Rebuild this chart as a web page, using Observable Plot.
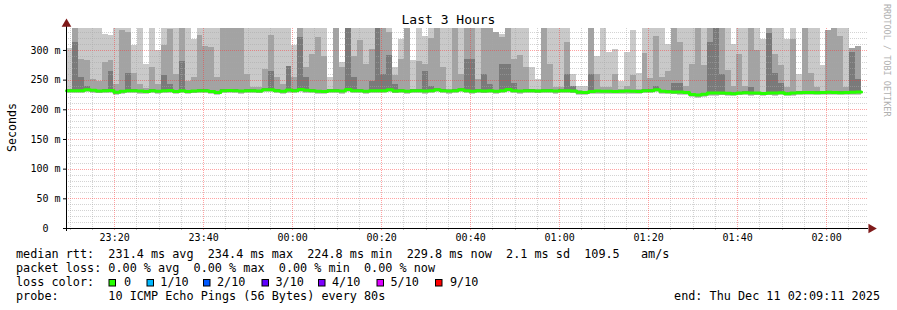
<!DOCTYPE html>
<html><head><meta charset="utf-8">
<script src="https://cdn.jsdelivr.net/npm/d3@7"></script>
<script src="https://cdn.jsdelivr.net/npm/@observablehq/plot@0.6"></script>
<style>
body{margin:0;background:#fff;}
#chart{position:relative;width:897px;height:310px;overflow:hidden;}
svg text{font-family:"DejaVu Sans Mono",monospace;white-space:pre;}
</style></head><body><div id="chart"></div>
<script>
// ---- data ----
const START = Date.UTC(2025, 11, 10, 23, 9, 11);
const END = Date.UTC(2025, 11, 11, 2, 9, 11);
const STEP_S = 80;

const median = [
232.0,232.3,232.1,233.8,233.0,231.8,232.3,232.4,229.5,231.2,
232.0,232.2,231.6,231.0,232.0,231.2,232.2,232.4,231.0,232.0,
231.0,231.8,232.3,232.0,231.0,229.2,232.0,232.4,232.0,231.6,
232.0,232.2,231.8,234.0,233.8,232.0,231.2,233.2,232.0,234.2,
232.8,232.0,231.4,231.0,232.0,232.0,231.6,234.2,232.2,232.0,
231.4,232.0,232.2,232.0,234.0,231.8,232.0,231.2,232.0,232.2,
231.6,232.0,234.0,232.0,231.6,232.0,234.0,232.0,231.2,232.0,
231.8,232.0,231.4,232.2,234.2,232.0,231.6,232.0,232.2,231.8,
232.0,232.2,231.6,232.0,232.2,231.8,229.4,229.0,230.8,231.6,
231.4,231.4,231.0,231.2,231.6,231.2,231.0,232.0,232.2,234.0,
231.2,230.4,230.0,229.8,229.0,226.0,224.8,226.4,228.2,228.2,
228.4,228.0,227.2,228.4,228.6,228.2,228.4,227.4,228.4,228.2,
228.6,227.0,228.2,228.8,229.0,229.2,228.8,229.0,229.4,229.2,
228.8,229.2,229.6,229.8];

const lightTop = [
303,337,337,337,337,337,327,326,337,337,
337,309,337,277,337,300,337,337,337,337,
337,318,337,337,337,337,337,337,337,337,
337,337,337,337,337,337,337,337,309,337,
337,337,337,337,254,337,279,337,337,337,
337,337,337,337,337,272,318,337,283,337,
324,337,337,337,337,337,337,337,337,337,
337,337,330,327,337,337,337,337,272,251,
337,337,337,337,337,259,240,240,337,289,
337,297,302,248,297,334,262,337,337,337,
337,310,337,337,337,337,337,337,337,337,
337,337,310,337,337,337,337,318,337,337,
337,318,337,259,337,337,337,274,333,337,
337,337,303,307];

const mediumTop = [
0,337,285,283,251,248,280,283,243,333,
331,262,242,236,271,242,309,335,259,337,
248,255,326,307,305,254,337,337,337,337,
259,237,237,268,326,254,243,273,254,337,
272,293,322,290,0,337,272,337,289,317,
276,302,337,337,331,258,285,337,0,282,
276,320,337,271,0,337,259,337,337,251,
337,337,330,321,337,285,292,271,0,0,
337,276,237,237,313,0,0,0,337,259,
237,237,259,0,240,257,0,295,253,324,
255,265,337,313,240,276,337,274,337,337,
337,266,240,294,240,337,300,0,337,294,
274,237,318,0,337,262,237,0,333,337,
324,237,303,307];

const darkTop = [
0,313,254,240,0,0,0,265,0,0,
262,0,0,0,0,0,257,242,0,282,
0,0,0,0,0,0,0,0,0,0,
0,0,0,0,265,0,0,273,0,322,
254,0,0,0,0,0,0,337,254,0,
0,248,337,259,291,243,0,0,0,0,
265,240,0,0,0,0,0,285,285,0,
260,243,0,276,276,245,0,0,0,0,
0,0,0,0,259,240,0,0,259,0,
0,0,0,0,0,0,0,0,0,240,
0,0,245,245,0,0,0,0,313,337,
259,0,0,0,0,237,0,0,328,262,
245,0,0,0,0,0,0,0,0,0,
0,0,297,251];

const yTicks = [0, 50, 100, 150, 200, 250, 300];
const legendRows = [
  "median rtt:  231.4 ms avg  234.4 ms max  224.8 ms min  229.8 ms now  2.1 ms sd  109.5   am/s",
  "packet loss: 0.00 % avg  0.00 % max  0.00 % min  0.00 % now",
  "loss color:",
  "probe:       10 ICMP Echo Pings (56 Bytes) every 80s"
];
const lossLabels = ["0", "1/10", "2/10", "3/10", "4/10", "5/10", "9/10"];
const lossColors = ["#26ff00", "#00b8ff", "#0059ff", "#5e00ff", "#7e00ff", "#dd00ff", "#ff0000"];
const endText = "end: Thu Dec 11 02:09:11 2025";
const title = "Last 3 Hours";

// ---- build rows ----
const cols = median.map((m, k) => ({
  x1: new Date(START + k * STEP_S * 1000),
  x2: new Date(START + (k + 1) * STEP_S * 1000),
  med: m, t1: lightTop[k], t2: mediumTop[k], t3: darkTop[k]
}));
const lightRows = cols.filter(d => d.t1 > 0).map(d => ({x1: d.x1, x2: d.x2, y1: d.med - 5, y2: d.t1}));
const mediumRows = cols.map(d => ({x1: d.x1, x2: d.x2, y1: d.med - 3.5, y2: d.t2 > 0 ? d.t2 : d.med + 2.5}));
const darkRows = cols.map(d => ({x1: d.x1, x2: d.x2, y1: d.med - 2, y2: d.t3 > 0 ? d.t3 : d.med + 1.5}));
const coreRows = cols.map(d => ({x1: d.x1, x2: d.x2, y1: d.med - 1.8, y2: d.med + 0.8}));
const medLine = cols.map(d => ({t: d.x1, v: d.med}));
medLine.push({t: cols[cols.length - 1].x2, v: median[median.length - 1]});

const minor5 = d3.utcMinute.every(5).range(new Date(START), new Date(END)).filter(d => d.getUTCMinutes() % 20 !== 0);
const major20 = d3.utcMinute.every(20).range(new Date(START), new Date(END));
const yMinor = d3.range(10, 337, 10).filter(v => v % 50 !== 0);
const yMajor = yTicks.filter(v => v > 0);

const gMinor = {stroke: "#a8a8a8", strokeOpacity: 0.5, strokeDasharray: "1,1", shapeRendering: "crispEdges"};
const gMajor = {stroke: "#ff3030", strokeOpacity: 0.45, strokeDasharray: "1,1", shapeRendering: "crispEdges"};

const plot = Plot.plot({
  width: 897, height: 310,
  marginLeft: 66, marginRight: 30, marginTop: 28, marginBottom: 82,
  style: {fontFamily: "DejaVu Sans Mono", fontSize: "10px", background: "white", color: "black", overflow: "visible"},
  x: {type: "utc", domain: [new Date(START), new Date(END)]},
  y: {domain: [0, 337]},
  marks: [
    Plot.rectY(lightRows, {x1: "x1", x2: "x2", y1: "y1", y2: "y2", fill: "#c9c9c9", shapeRendering: "crispEdges"}),
    Plot.rectY(mediumRows, {x1: "x1", x2: "x2", y1: "y1", y2: "y2", fill: "#a3a3a3", shapeRendering: "crispEdges"}),
    Plot.rectY(darkRows, {x1: "x1", x2: "x2", y1: "y1", y2: "y2", fill: "#7a7a7a", shapeRendering: "crispEdges"}),
    Plot.rectY(coreRows, {x1: "x1", x2: "x2", y1: "y1", y2: "y2", fill: "#4a4a4a", shapeRendering: "crispEdges"}),
    Plot.ruleY(yMinor, gMinor),
    Plot.ruleX(minor5, gMinor),
    Plot.ruleY(yMajor, gMajor),
    Plot.ruleX(major20, gMajor),
    Plot.line(medLine, {x: "t", y: "v", curve: "step-after", stroke: "#26ff00", strokeWidth: 3}),
    Plot.ruleX(minor5, {y1: -4, y2: 0, stroke: "#c0c0c0", shapeRendering: "crispEdges"}),
    Plot.ruleX(major20, {y1: -4, y2: 0, stroke: "#ff9c9c", shapeRendering: "crispEdges"}),
    Plot.ruleY([0], {x1: new Date(START - 40000), x2: new Date(END + 15000), stroke: "black", shapeRendering: "crispEdges"}),
    Plot.ruleX([new Date(START)], {y1: -5, y2: 340, stroke: "black", shapeRendering: "crispEdges"}),
    Plot.dot([{x: new Date(START), y: 344.5}], {x: "x", y: "y", symbol: "triangle", r: 3.6, fill: "#7f1a1a", stroke: "none"}),
    Plot.dot([{x: new Date(END + 50000), y: 0}], {x: "x", y: "y", symbol: "triangle", r: 3.6, rotate: 90, fill: "#7f1a1a", stroke: "none"}),
    Plot.axisY({ticks: yTicks, tickSize: 3, tickPadding: 3, label: null,
      tickFormat: d => d === 0 ? "0\u00a0\u00a0" : d + " m"}),
    Plot.axisX({ticks: major20, tickSize: 0, tickPadding: 5, label: null,
      tickFormat: d3.utcFormat("%H:%M")})
  ]
});
document.getElementById("chart").appendChild(plot);

// ---- texts ----
const svg = d3.select(plot);
const T = (x, y, s, size, anchor) => svg.append("text")
  .attr("x", x).attr("y", y).attr("font-size", size).attr("text-anchor", anchor || "start")
  .attr("fill", "black").attr("xml:space", "preserve").text(s);

T(448.5, 24, title, "13px", "middle");
svg.append("text").attr("transform", "translate(16,127.5) rotate(-90)")
  .attr("text-anchor", "middle").attr("font-size", "11.6px").attr("fill", "black").text("Seconds");
svg.append("text").attr("transform", "translate(884,4) rotate(90)")
  .attr("text-anchor", "start").attr("font-size", "8.5px").attr("fill", "#b0b0b0").text("RRDTOOL / TOBI OETIKER");

const rowY = [258, 272, 286, 300];
legendRows.forEach((s, i) => T(16, rowY[i], s, "11.8px"));
const boxX = [108.5, 146.5, 203, 261.5, 318, 376.5, 435];
const labX = [124, 160.3, 217, 275.5, 332, 390.5, 450];
lossLabels.forEach((s, i) => {
  svg.append("rect").attr("x", boxX[i] + 0.5).attr("y", 279.5).attr("width", 6.5).attr("height", 6.5)
    .attr("fill", lossColors[i]).attr("stroke", "black").attr("stroke-width", 1);
  T(labX[i], 286, s, "11.8px");
});
T(880, 300, endText, "11.8px", "end");
</script></body></html>
